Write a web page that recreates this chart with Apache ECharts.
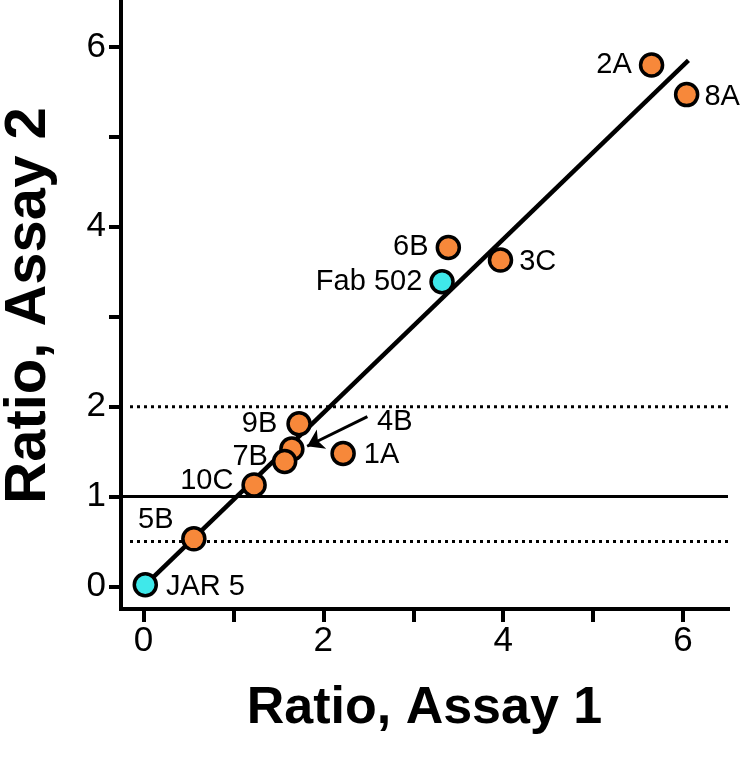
<!DOCTYPE html>
<html>
<head>
<meta charset="utf-8">
<script src="https://cdn.jsdelivr.net/npm/echarts@6/dist/echarts.min.js"></script>
<style>
html,body{margin:0;padding:0;background:#fff;}
#chart{width:750px;height:759px;}
</style>
</head>
<body>
<div id="chart"></div>
<script>
// ---- data ----
var pointNames = ['4B','JAR 5','5B','10C','7B','9B','1A','Fab 502','6B','3C','2A','8A'];
var pointX     = [1.65, 0.02, 0.56, 1.23, 1.57, 1.73, 2.22, 3.32, 3.39, 3.97, 5.65, 6.04];
var pointY     = [1.53, 0.02, 0.53, 1.13, 1.39, 1.81, 1.48, 3.39, 3.77, 3.63, 5.80, 5.47];
var pointGroup = ['orange','cyan','orange','orange','orange','orange','orange','cyan','orange','orange','orange','orange'];

var fitX = [0.0, 6.06];
var fitY = [0.0, 5.85];

var solidRefY = 1;
var dottedRefY = [2, 0.5];
var refXStart = -0.25, dottedXStart = -0.15, refXEnd = 6.5;

var arrowFrom = [2.49, 1.89];
var arrowTo = [1.82, 1.56];

var xTickValues = [0, 1, 2, 3, 4, 5, 6];
var xLabelValues = [0, 2, 4, 6];
var yTickValues = [0, 1, 2, 3, 4, 5, 6];
var yLabelValues = [0, 1, 2, 4, 6];

var xTitle = 'Ratio, Assay 1';
var yTitle = 'Ratio, Assay 2';

// ---- styles ----
var FONT = "'Liberation Sans', Arial, sans-serif";
var colors = {orange: '#F7883A', cyan: '#3FE8EA'};
var labelStyle = {
  '4B':      {position: 'inside', offset: [103, -27]},
  'JAR 5':   {position: 'right', distance: 8, offset: [0, 2]},
  '5B':      {position: 'inside', offset: [-38, -19]},
  '10C':     {position: 'left', distance: 8, offset: [0, -4]},
  '7B':      {position: 'left', distance: 4, offset: [0, -5]},
  '9B':      {position: 'left', distance: 9, offset: [0, 0]},
  '1A':      {position: 'right', distance: 8, offset: [0, 2]},
  'Fab 502': {position: 'left', distance: 7, offset: [0, 0]},
  '6B':      {position: 'left', distance: 7, offset: [0, 0]},
  '3C':      {position: 'right', distance: 6, offset: [0, 2]},
  '2A':      {position: 'left', distance: 7, offset: [0, 0]},
  '8A':      {position: 'right', distance: 5, offset: [0, 2]}
};

function buildPoints(group) {
  var out = [];
  for (var i = 0; i < pointNames.length; i++) {
    if (pointGroup[i] !== group) continue;
    var ls = labelStyle[pointNames[i]];
    out.push({
      name: pointNames[i],
      value: [pointX[i], pointY[i]],
      label: {
        show: true,
        formatter: pointNames[i],
        position: ls.position,
        distance: ls.distance || 0,
        offset: ls.offset,
        color: '#000',
        fontFamily: FONT,
        fontSize: 29
      }
    });
  }
  return out;
}

var chart = echarts.init(document.getElementById('chart'), null, {renderer: 'canvas'});

var option = {
  animation: false,
  backgroundColor: '#fff',
  grid: {left: 121, top: 2, width: 607, height: 607, containLabel: false, outerBoundsMode: 'none'},
  xAxis: {
    type: 'value',
    min: -0.25, max: 6.5,
    axisLine: {onZero: false, lineStyle: {color: '#000', width: 4, cap: 'square'}},
    axisTick: {show: true, customValues: xTickValues, length: 13, lineStyle: {color: '#000', width: 4}},
    axisLabel: {customValues: xLabelValues, margin: 15, color: '#000', fontFamily: FONT, fontSize: 35},
    splitLine: {show: false},
    name: xTitle,
    nameLocation: 'middle',
    nameGap: 74,
    nameTextStyle: {color: '#000', fontFamily: FONT, fontSize: 52, fontWeight: 'bold'}
  },
  yAxis: {
    type: 'value',
    min: -0.25, max: 6.5,
    axisLine: {onZero: false, lineStyle: {color: '#000', width: 4, cap: 'square'}},
    axisTick: {show: true, customValues: yTickValues, length: 12, lineStyle: {color: '#000', width: 4}},
    axisLabel: {customValues: yLabelValues, margin: 15, color: '#000', fontFamily: FONT, fontSize: 35},
    splitLine: {show: false},
    name: yTitle,
    nameLocation: 'middle',
    nameGap: 63,
    nameRotate: 90,
    nameTextStyle: {color: '#000', fontFamily: FONT, fontSize: 58, fontWeight: 'bold'}
  },
  series: [
    {
      type: 'line', z: 1, silent: true, symbol: 'none',
      data: [[refXStart, solidRefY], [refXEnd, solidRefY]],
      lineStyle: {color: '#000', width: 3}
    },
    {
      type: 'line', z: 1, silent: true, symbol: 'none',
      data: [[dottedXStart, dottedRefY[0]], [refXEnd, dottedRefY[0]]],
      lineStyle: {color: '#000', width: 3, type: [3, 4]}
    },
    {
      type: 'line', z: 1, silent: true, symbol: 'none',
      data: [[dottedXStart, dottedRefY[1]], [refXEnd, dottedRefY[1]]],
      lineStyle: {color: '#000', width: 3, type: [3, 4]}
    },
    {
      type: 'line', z: 2, silent: true, symbol: 'none',
      data: [[fitX[0], fitY[0]], [fitX[1], fitY[1]]],
      lineStyle: {color: '#000', width: 4.5}
    },
    {
      type: 'lines', coordinateSystem: 'cartesian2d', z: 3, silent: true,
      symbol: ['none', 'arrow'], symbolSize: 16,
      lineStyle: {color: '#000', width: 3, opacity: 1},
      data: [{coords: [arrowFrom, arrowTo]}]
    },
    {
      type: 'scatter', z: 4, symbol: 'circle', symbolSize: 22,
      itemStyle: {color: colors.orange, borderColor: '#000', borderWidth: 3.5, opacity: 1},
      data: buildPoints('orange')
    },
    {
      type: 'scatter', z: 4, symbol: 'circle', symbolSize: 22,
      itemStyle: {color: colors.cyan, borderColor: '#000', borderWidth: 3.5, opacity: 1},
      data: buildPoints('cyan')
    }
  ]
};
chart.setOption(option);
</script>
</body>
</html>
